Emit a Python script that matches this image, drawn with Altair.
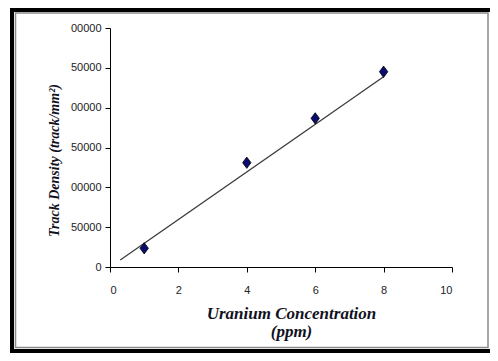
import altair as alt
import pandas as pd

# Data
conc = [1, 4, 6, 8]
density = [23500, 130900, 186600, 245100]
trend_x = [0.3, 8.0]
trend_y = [8800, 238900]
x_ticks = [0, 2, 4, 6, 8, 10]
y_ticks = [0, 50000, 100000, 150000, 200000, 250000, 300000]

pts = pd.DataFrame({"conc": conc, "density": density})
trend = pd.DataFrame({"conc": trend_x, "density": trend_y})
dummy = pd.DataFrame({"a": [0]})

label_font = "Liberation Sans, Arial, sans-serif"
title_font = "Liberation Serif, Times New Roman, serif"

xscale = alt.Scale(domain=[0, 10], nice=False)
yscale = alt.Scale(domain=[0, 300000], nice=False)

xaxis = alt.Axis(
    values=x_ticks, tickCount=12, grid=False, domainColor="black", tickColor="black",
    tickSize=5, labelPadding=12, labelFont=label_font, labelFontSize=11,
    labelColor="#222222", labelOverlap=False, format="d",
    title=["Uranium Concentration", "(ppm)"],
    titleFont=title_font, titleFontSize=17, titleFontStyle="italic",
    titleFontWeight="bold", titleColor="#111122", titleX=181, titleY=38,
    titleBaseline="top", titleAlign="center", titleLineHeight=18,
)
yaxis = alt.Axis(
    values=y_ticks, tickCount=12, grid=False, domainColor="black", tickColor="black",
    tickSize=5, labelPadding=4, labelFont=label_font, labelFontSize=11,
    labelColor="#222222", labelOverlap=False, format="d",
    labelExpr="datum.value >= 100000 ? substring(toString(datum.value), 1) : toString(datum.value)",
    title="Track Density (track/mm²)", titleFont=title_font, titleFontSize=14,
    titleFontStyle="italic", titleFontWeight="bold", titleColor="#111122",
    titleX=-56, titleY=132, titleAngle=270, titleAlign="center",
    titleBaseline="middle",
)

frame_black = alt.Chart(dummy).mark_rect(
    fillOpacity=0, stroke="black", strokeWidth=4
).encode(x=alt.value(-98), x2=alt.value(400), y=alt.value(-18), y2=alt.value(323))

frame_gray = alt.Chart(dummy).mark_rect(
    fillOpacity=0, stroke="#8a8a8a", strokeWidth=1.5
).encode(x=alt.value(-94.5), x2=alt.value(378), y=alt.value(-15), y2=alt.value(319.5))

line = alt.Chart(trend).mark_line(color="#3a3a3a", strokeWidth=1.3).encode(
    x=alt.X("conc:Q", scale=xscale, axis=xaxis),
    y=alt.Y("density:Q", scale=yscale, axis=yaxis),
)

points = alt.Chart(pts).mark_point(
    shape="M0,-1.35L1,0L0,1.35L-1,0Z", filled=True, fill="#0b0b70",
    stroke="black", strokeWidth=0.8, size=70, opacity=1,
).encode(
    x=alt.X("conc:Q", scale=xscale),
    y=alt.Y("density:Q", scale=yscale),
)

chart = alt.layer(frame_black, frame_gray, line, points).properties(
    width=342, height=239,
    autosize=alt.AutoSizeParams(type="none"),
    padding={"left": 102, "top": 20, "right": 38, "bottom": 86},
    background="white",
).configure_view(strokeWidth=0)

chart.save("out.html", embed_options={"renderer": "svg", "actions": False})
